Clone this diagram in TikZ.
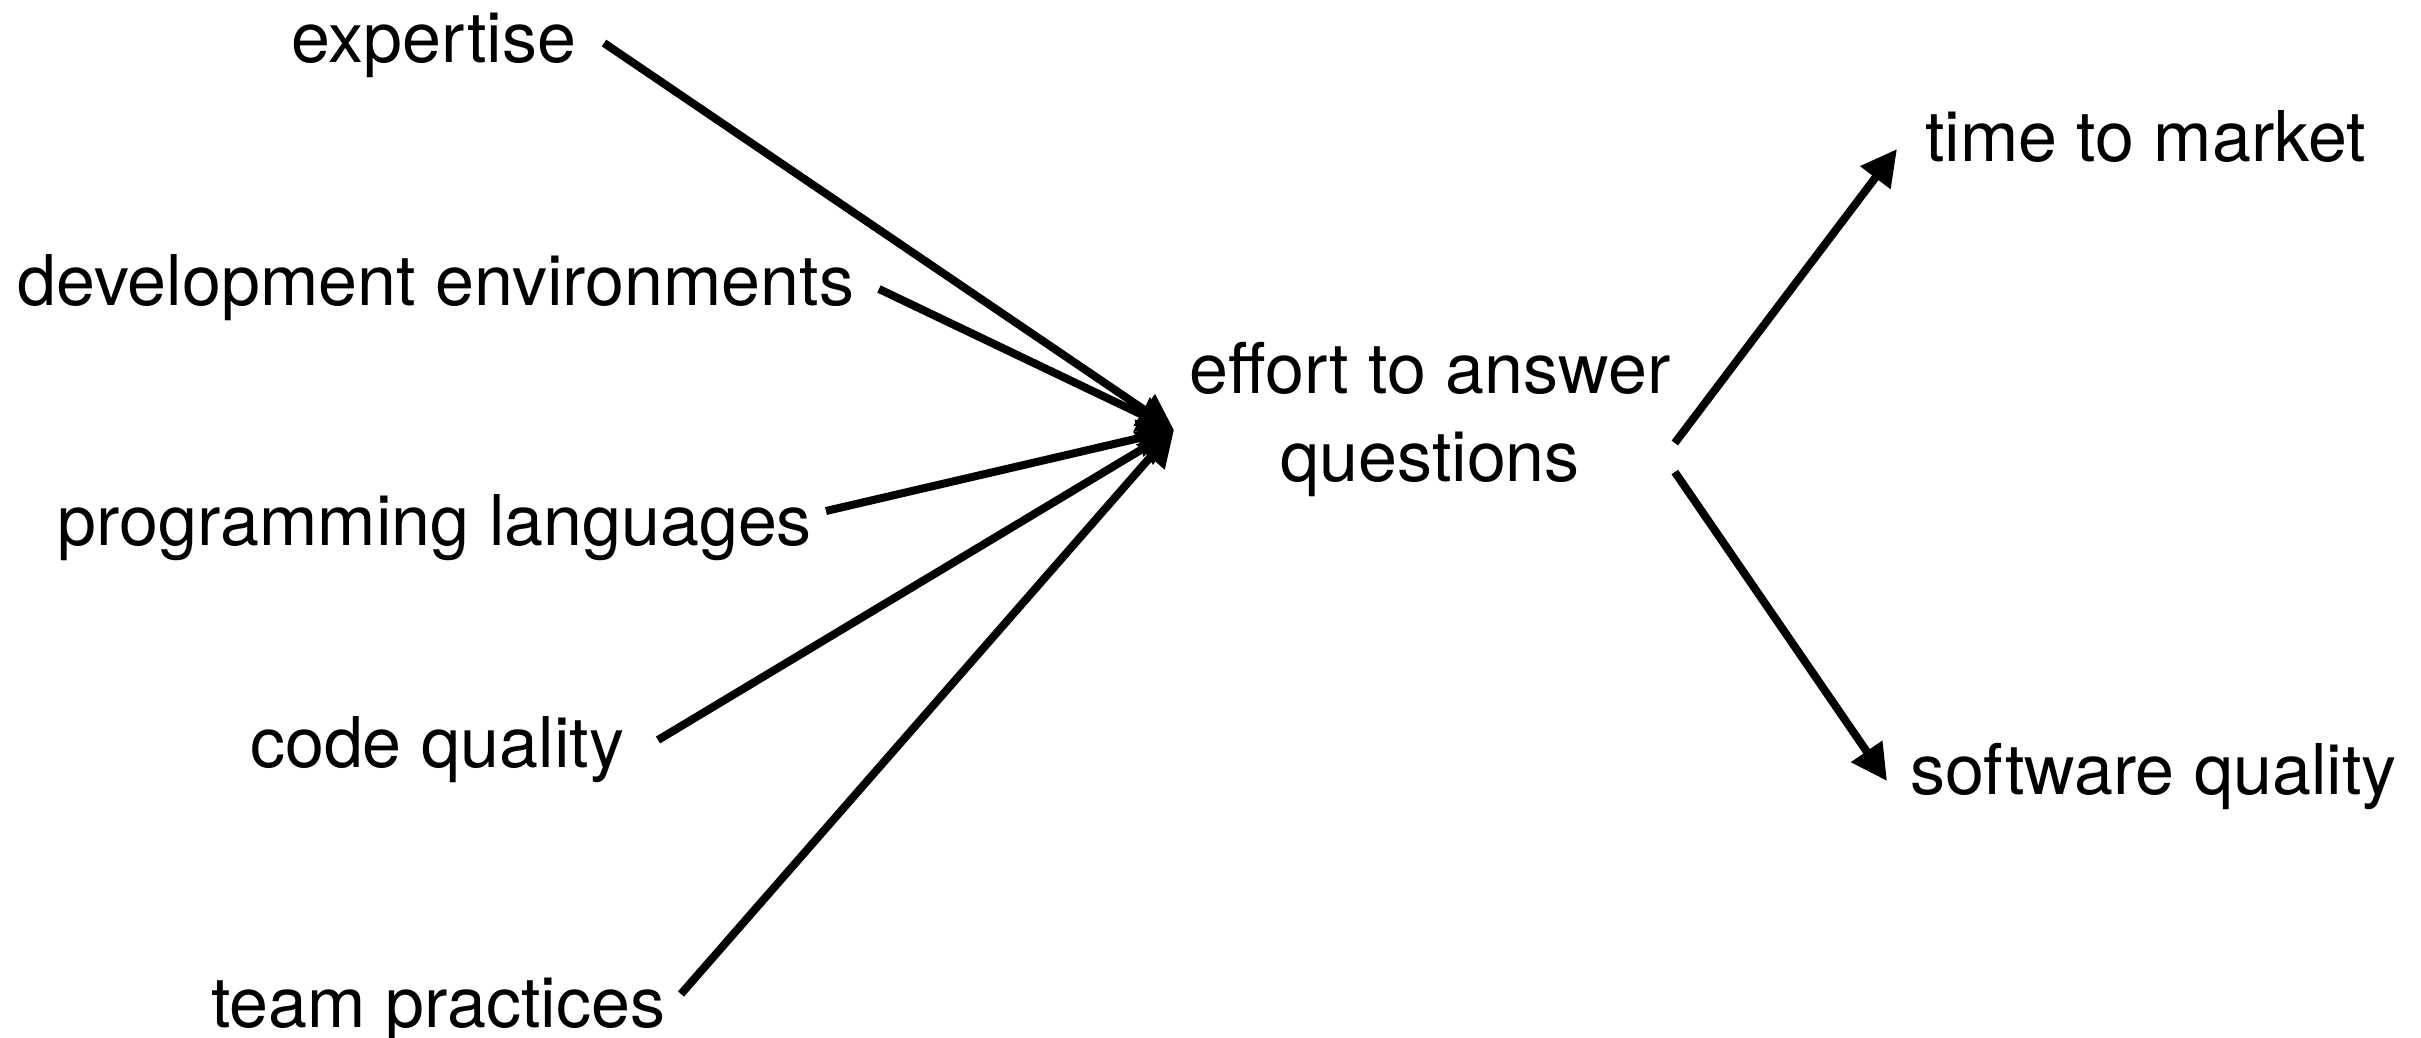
\documentclass[tikz,border=0pt]{standalone}
\usepackage{fontspec}
\setmainfont{TeX Gyre Heros}
\usetikzlibrary{arrows.meta}
\begin{document}
\begin{tikzpicture}[x=0.25pt,y=-0.25pt,
  lbl/.style={inner sep=0pt,outer sep=0pt,font=\fontsize{17.5}{22}\selectfont},
  link/.style={line width=2pt,-{Triangle[length=9pt,width=9pt]}}]
  \useasboundingbox (0,0) rectangle (2421,1038);

  % causes on the left, right-aligned
  \node[lbl,anchor=base east] (exp)  at (576,63)   {expertise};
  \node[lbl,anchor=base east] (dev)  at (854,306)  {development environments};
  \node[lbl,anchor=base east] (prog) at (812,545)  {programming languages};
  \node[lbl,anchor=base east] (code) at (624,767)  {code quality};
  \node[lbl,anchor=base east] (team) at (665,1027) {team practices};

  % central factor
  \node[lbl,align=center] (eff) at (1430,420) {effort to answer\\questions};
  \coordinate (hub) at (1174,430);

  % consequences on the right
  \node[lbl,anchor=base west] (ttm) at (1925,162) {time to market};
  \node[lbl,anchor=base west] (sq)  at (1910,794) {software quality};

  % arrows into the hub
  \draw[link] ([shift={(28,-20)}]exp.base east)  -- (hub);
  \draw[link] ([shift={(25,-17)}]dev.base east)  -- (hub);
  \draw[link] ([shift={(14,-34)}]prog.base east) -- (hub);
  \draw[link] ([shift={(34,-27)}]code.base east) -- (hub);
  \draw[link] ([shift={(16,-33)}]team.base east) -- (hub);

  % arrows out of the central factor
  \draw[link] ([shift={(4,23)}]eff.east) -- ([shift={(-28,-13)}]ttm.base west);
  \draw[link] ([shift={(4,52)}]eff.east) -- ([shift={(-23,-13)}]sq.base west);
\end{tikzpicture}
\end{document}
